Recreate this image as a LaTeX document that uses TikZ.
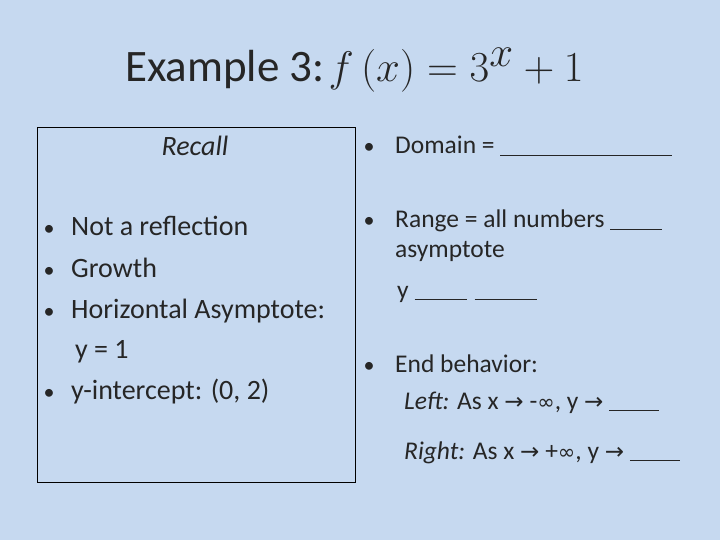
\documentclass[tikz,border=0pt]{standalone}
\usepackage{fontspec}
\setmainfont{Carlito}
\newfontfamily\symf{DejaVu Sans}
\definecolor{bg}{RGB}{198,217,240}
\definecolor{txt}{RGB}{38,38,38}
\newcommand{\ar}{{\symf\fontsize{23}{26}\selectfont→}}
\newcommand{\inft}{{\symf\fontsize{21}{24}\selectfont∞}}
\begin{document}
\begin{tikzpicture}[x=1pt,y=-1pt,
  lt/.style={anchor=base west,inner sep=0pt,text=txt,font=\fontsize{28}{32}\selectfont},
  rt/.style={anchor=base west,inner sep=0pt,text=txt,font=\fontsize{25.5}{30}\selectfont},
  bul/.style={anchor=base,inner sep=0pt,text=txt,font=\fontsize{22}{28}\selectfont}]
\fill[bg] (0,0) rectangle (720,540);
\useasboundingbox (0,0) rectangle (720,540);
\node[anchor=base west,inner sep=0pt,text=txt,font=\fontsize{45}{52}\selectfont] (title) at (125,82) {Example 3:\hspace{4pt}\scalebox{1.72}{$f\,(x) = 3^{x} + 1$}};
\draw[black,line width=0.8pt] (37,127) rectangle (355,482);
\node[anchor=base,inner sep=0pt,text=txt,font=\fontsize{28}{32}\selectfont\itshape] (recall) at (195,156) {Recall};
\foreach \n/\y in {b1/236,b2/277,b3/318,b4/399}{\node[bul] (\n) at (49,\y) {•};}
\node[lt] (l1) at (71,236) {Not a reflection};
\node[lt] (l2) at (71,277) {Growth};
\node[lt] (l3) at (71,318) {Horizontal Asymptote:};
\node[lt] (l4) at (75,358) {y = 1};
\node[lt] (l5) at (71,399) {y-intercept: (0, 2)};
\foreach \n/\y in {r1/154,r2/228,r3/372}{\node[bul] (\n) at (369,\y) {•};}
\node[rt] (d) at (395,154) {Domain = \underline{\hspace{172pt}}};
\node[rt] (ra) at (395,228) {Range = all numbers \underline{\hspace{52pt}}};
\node[rt] (as) at (395,258) {asymptote};
\node[rt] (yy) at (397,298) {y \underline{\hspace{52pt}}\hspace{8pt}\underline{\hspace{62pt}}};
\node[rt] (eb) at (395,372) {End behavior:};
\node[rt] (lf) at (404,409) {\textit{Left:} As x \ar{} -\inft, y \ar{} \underline{\hspace{50pt}}};
\node[rt] (rg) at (404,459) {\textit{Right:} As x \ar{} +\inft, y \ar{} \underline{\hspace{50pt}}};
\end{tikzpicture}
\end{document}
